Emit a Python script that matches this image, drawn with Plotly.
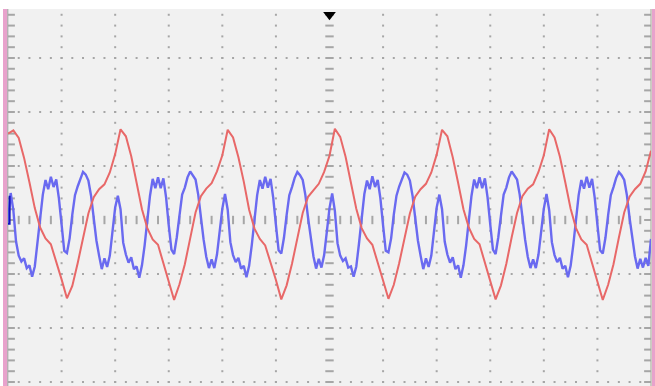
import numpy as np
import plotly.graph_objects as go

# ---- data (time in divisions, amplitude in divisions) ----
red_t0, red_dt = 0.0, 0.1
red_v = [1.60,
    1.66, 1.52, 1.15, 0.70, 0.22, -0.14, -0.34, -0.45, -0.76, -1.10, -1.45, -1.22, -0.80, -0.32, 0.12, 0.42, 0.57, 0.66, 0.88, 1.22,
    1.68, 1.55, 1.18, 0.69, 0.20, -0.15, -0.36, -0.46, -0.79, -1.12, -1.48, -1.19, -0.82, -0.34, 0.14, 0.44, 0.58, 0.68, 0.90, 1.20,
    1.67, 1.53, 1.16, 0.71, 0.19, -0.16, -0.35, -0.47, -0.78, -1.11, -1.47, -1.21, -0.81, -0.33, 0.13, 0.43, 0.56, 0.67, 0.89, 1.19,
    1.69, 1.54, 1.17, 0.70, 0.21, -0.15, -0.34, -0.46, -0.77, -1.12, -1.46, -1.20, -0.80, -0.33, 0.12, 0.43, 0.57, 0.67, 0.88, 1.21,
    1.67, 1.55, 1.16, 0.69, 0.20, -0.14, -0.35, -0.45, -0.78, -1.10, -1.47, -1.21, -0.81, -0.32, 0.13, 0.44, 0.58, 0.66, 0.89, 1.20,
    1.68, 1.53, 1.17, 0.70, 0.21, -0.15, -0.36, -0.46, -0.79, -1.11, -1.48, -1.20, -0.82, -0.33, 0.14, 0.43, 0.57, 0.67, 0.90, 1.28]

blue_t0, blue_dt = 0.0, 0.05
blue_v = [-0.05,
    0.50, 0.18, -0.40, -0.66, -0.77, -0.71, -0.89, -0.84, -1.05, -0.86, -0.45, 0.01, 0.47, 0.74, 0.57, 0.80, 0.61, 0.75, 0.40, -0.08,
    -0.57, -0.61, -0.34, 0.10, 0.46, 0.62, 0.77, 0.89, 0.84, 0.73, 0.45, 0.05, -0.38, -0.66, -0.91, -0.71, -0.87, -0.66, -0.21, 0.23,
    0.45, 0.20, -0.42, -0.64, -0.79, -0.69, -0.91, -0.86, -1.07, -0.84, -0.47, 0.00, 0.45, 0.76, 0.59, 0.79, 0.59, 0.77, 0.42, -0.10,
    -0.55, -0.63, -0.32, 0.08, 0.47, 0.60, 0.79, 0.90, 0.82, 0.75, 0.47, 0.03, -0.36, -0.68, -0.89, -0.73, -0.89, -0.64, -0.23, 0.21,
    0.48, 0.19, -0.41, -0.65, -0.78, -0.70, -0.90, -0.85, -1.06, -0.85, -0.46, 0.00, 0.46, 0.74, 0.58, 0.80, 0.60, 0.76, 0.41, -0.09,
    -0.56, -0.62, -0.33, 0.09, 0.46, 0.61, 0.78, 0.89, 0.83, 0.74, 0.46, 0.04, -0.37, -0.67, -0.90, -0.72, -0.88, -0.65, -0.22, 0.22,
    0.49, 0.17, -0.43, -0.66, -0.76, -0.71, -0.88, -0.86, -1.05, -0.86, -0.44, 0.02, 0.48, 0.73, 0.57, 0.81, 0.61, 0.74, 0.40, -0.10,
    -0.57, -0.60, -0.34, 0.10, 0.45, 0.62, 0.77, 0.88, 0.84, 0.73, 0.45, 0.05, -0.38, -0.66, -0.91, -0.71, -0.87, -0.66, -0.21, 0.23,
    0.47, 0.20, -0.40, -0.64, -0.79, -0.69, -0.91, -0.84, -1.07, -0.84, -0.47, -0.01, 0.45, 0.75, 0.59, 0.79, 0.59, 0.77, 0.42, -0.08,
    -0.55, -0.63, -0.32, 0.08, 0.47, 0.60, 0.79, 0.90, 0.82, 0.75, 0.47, 0.03, -0.36, -0.68, -0.89, -0.73, -0.89, -0.64, -0.23, 0.21,
    0.48, 0.18, -0.41, -0.65, -0.78, -0.70, -0.90, -0.85, -1.06, -0.85, -0.46, 0.00, 0.46, 0.74, 0.58, 0.80, 0.60, 0.76, 0.41, -0.09,
    -0.56, -0.62, -0.33, 0.09, 0.46, 0.61, 0.78, 0.89, 0.83, 0.74, 0.46, 0.04, -0.37, -0.67, -0.90, -0.72, -0.88, -0.70, -0.85, -0.35]

red_t = [red_t0 + i * red_dt for i in range(len(red_v))]
blue_t = [blue_t0 + i * blue_dt for i in range(len(blue_v))]

X_DIVS = 12
Y_MIN, Y_MAX = -3.074, 3.907
GRID = "#a6a6a6"

fig = go.Figure()

# ---- graticule ----
minor_x = np.round(np.arange(0, X_DIVS + 0.001, 0.2), 3)
minor_y = np.round(np.arange(-3.0, 3.85, 0.2), 3)
dx, dy = [], []
for v in [-3, -2, -1, 1, 2, 3]:
    for t in minor_x:
        if 0 < t < X_DIVS:
            dx.append(t); dy.append(v)
for t in [1, 2, 3, 4, 5, 7, 8, 9, 10, 11]:
    for v in minor_y:
        dx.append(t); dy.append(v)
fig.add_trace(go.Scatter(x=dx, y=dy, mode="markers", hoverinfo="skip",
                         marker=dict(symbol="square", size=2, color=GRID)))
inner_x = [t for t in minor_x if 0 < t < X_DIVS]
fig.add_trace(go.Scatter(x=inner_x, y=[0] * len(inner_x), mode="markers", hoverinfo="skip",
                         marker=dict(symbol="line-ns", size=6, line=dict(width=2, color=GRID))))
for tx in [6.0, 0.05, X_DIVS - 0.05]:
    fig.add_trace(go.Scatter(x=[tx] * len(minor_y), y=minor_y, mode="markers", hoverinfo="skip",
                             marker=dict(symbol="line-ew", size=6, line=dict(width=2, color=GRID))))

# ---- traces ----
fig.add_trace(go.Scatter(x=blue_t, y=blue_v, mode="lines", line=dict(color="#6a6af0", width=2.4),
                         hoverinfo="skip"))
fig.add_trace(go.Scatter(x=red_t, y=red_v, mode="lines", line=dict(color="#e86868", width=2), hoverinfo="skip"))

# trigger marker
fig.add_trace(go.Scatter(x=[6.0], y=[3.80], mode="markers", cliponaxis=False, hoverinfo="skip",
                         marker=dict(symbol="triangle-down", size=11, color="black")))
# channel markers at left
fig.add_trace(go.Scatter(x=[-0.06, 0.03, 0.03], y=[-0.07, -0.07, 0.45], mode="lines", cliponaxis=False,
                         hoverinfo="skip", line=dict(color="#1010c0", width=2)))
fig.add_trace(go.Scatter(x=[-0.09], y=[-0.03], mode="markers", cliponaxis=False, hoverinfo="skip",
                         marker=dict(symbol="triangle-right", size=8, color="#e02020")))

W, H = 655, 386
top_px = 9
fig.update_layout(
    width=W, height=H, margin=dict(l=0, r=0, t=0, b=0),
    paper_bgcolor="white", plot_bgcolor="#f1f1f1", showlegend=False,
    xaxis=dict(domain=[8 / W, 651 / W], range=[0, X_DIVS], visible=False),
    yaxis=dict(domain=[0, (H - top_px) / H], range=[Y_MIN, Y_MAX], visible=False),
    shapes=[
        dict(type="rect", xref="paper", yref="paper", x0=3 / W, x1=7.3 / W, y0=0, y1=(H - top_px) / H,
             fillcolor="#e8a2cc", line=dict(width=0), layer="below"),
        dict(type="rect", xref="paper", yref="paper", x0=651.8 / W, x1=1, y0=0, y1=(H - top_px) / H,
             fillcolor="#e8a2cc", line=dict(width=0), layer="below"),
        dict(type="line", xref="paper", yref="paper", x0=7.8 / W, x1=7.8 / W, y0=0, y1=(H - top_px) / H,
             line=dict(color="#9a9a9a", width=1), layer="below"),
        dict(type="line", xref="paper", yref="paper", x0=651 / W, x1=651 / W, y0=0, y1=(H - top_px) / H,
             line=dict(color="#a0a890", width=1), layer="below"),
    ],
)

fig.write_html("out.html", config={"displayModeBar": False, "staticPlot": True})
# remove default page margin so the figure sits at the window origin
with open("out.html", encoding="utf-8") as f:
    html = f.read()
html = html.replace("<head>", "<head><style>html,body{margin:0;padding:0;overflow:hidden;}</style>", 1)
with open("out.html", "w", encoding="utf-8") as f:
    f.write(html)
